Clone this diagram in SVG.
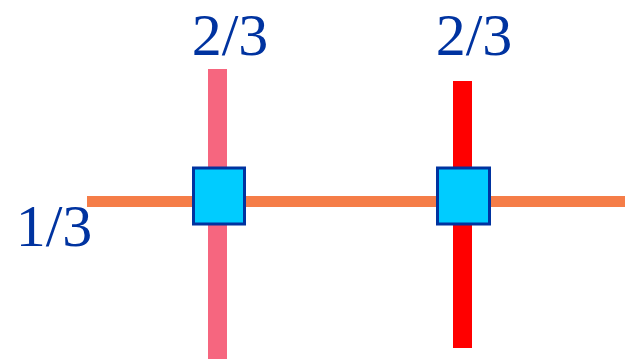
<svg xmlns="http://www.w3.org/2000/svg" width="625" height="359" viewBox="0 0 625 359">
  <style>
    .label { font-family: 'Liberation Serif', 'Tinos', 'DejaVu Serif', serif; font-size: 60px; fill: #0033a0; text-anchor: middle; }
    .node { fill: #00ccff; stroke: #0033a0; stroke-width: 3; }
  </style>
  <rect width="625" height="359" fill="#ffffff"/>
  <g id="connectors">
    <rect x="87" y="196" width="538" height="11" fill="#f57d48"/>
    <rect x="208" y="69" width="19" height="290" fill="#f6667f"/>
    <rect x="453" y="81" width="19" height="267" fill="#ff0000"/>
  </g>
  <g id="node-left">
    <rect class="node" x="193.5" y="168" width="51" height="56"/>
  </g>
  <g id="node-right">
    <rect class="node" x="437.5" y="168" width="52" height="56"/>
  </g>
  <g id="labels">
    <text class="label" x="230" y="55" font-family="Liberation Serif, serif">2/3</text>
    <text class="label" x="474" y="55">2/3</text>
    <text class="label" x="54" y="246">1/3</text>
  </g>
</svg>
